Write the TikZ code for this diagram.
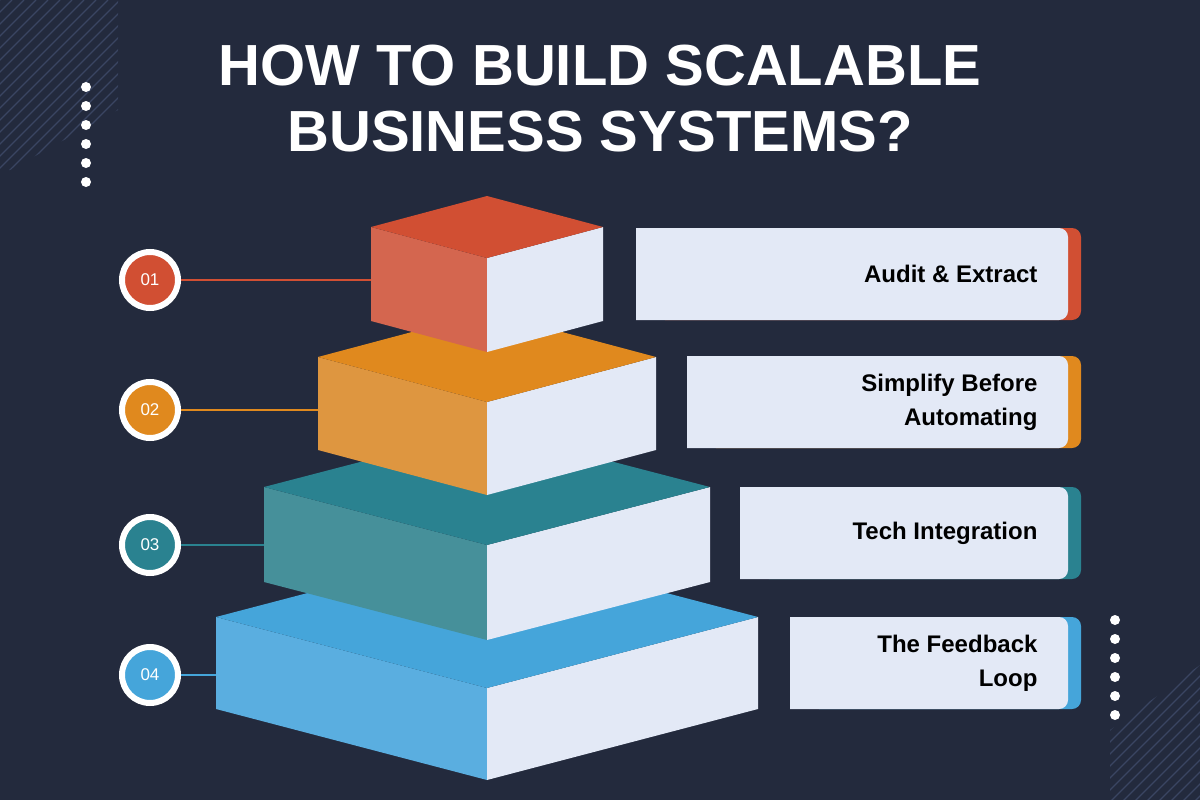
\documentclass[tikz,border=0pt]{standalone}
\usepackage{fontspec}
\setmainfont{Liberation Sans}
\usetikzlibrary{positioning}
\definecolor{bg}{HTML}{232A3D}
\definecolor{hatch}{HTML}{3A4562}
\definecolor{face}{HTML}{E3E9F6}
\definecolor{redL}{HTML}{D4664F}\definecolor{redT}{HTML}{D14F33}
\definecolor{orgL}{HTML}{DE9640}\definecolor{orgT}{HTML}{E0891E}
\definecolor{tealL}{HTML}{46909A}\definecolor{tealT}{HTML}{2A8290}
\definecolor{bluL}{HTML}{5AAEE0}\definecolor{bluT}{HTML}{45A5DA}
% block: front x, front top y, half width, slope drop, height, left colour, top colour
\newcommand{\layer}[7]{%
  \fill[#6] (#1-#3,#2-#4) -- (#1,#2) -- (#1,#2+#5) -- (#1-#3,#2-#4+#5) -- cycle;
  \fill[face] (#1+#3,#2-#4) -- (#1,#2) -- (#1,#2+#5) -- (#1+#3,#2-#4+#5) -- cycle;
  \fill[#7] (#1-#3,#2-#4) -- (#1,#2) -- (#1+#3,#2-#4) -- (#1,#2-2*#4) -- cycle;
}
\begin{document}
\begin{tikzpicture}[x=1pt,y=-1pt,
    num node/.style={circle,draw=white,line width=6pt,minimum size=56pt,inner sep=0pt,
      text=white,font=\fontsize{17}{17}\selectfont},
    link/.style={line width=2.5pt},
    dot/.style={circle,fill=white,minimum size=10pt,inner sep=0pt}]
  \fill[bg] (0,0) rectangle (1200,800);
  \useasboundingbox (0,0) rectangle (1200,800);
  % hatching
  \begin{scope}
    \clip (0,0) -- (118,0) -- (118,110) -- (10,170) -- (0,170) -- cycle;
    \foreach \i in {-200,-188,...,300}
      \draw[hatch,line width=1.2pt] (\i,200) -- (\i+200,0);
  \end{scope}
  \begin{scope}
    \clip (1200,665) -- (1200,800) -- (1110,800) -- (1110,730) -- cycle;
    \foreach \i in {900,912,...,1400}
      \draw[hatch,line width=1.2pt] (\i,820) -- (\i+200,620);
  \end{scope}
  % dots
  \foreach \k in {0,...,5} {
    \node[dot] (dl\k) at (86,87+19*\k) {};
    \node[dot] (dr\k) at (1115,620+19*\k) {};
  }
  % title
  \node[text=white,font=\bfseries\fontsize{58}{66}\selectfont,align=center] (title) at (600,99)
    {HOW TO BUILD SCALABLE\\BUSINESS SYSTEMS?};
  % label boxes
  \foreach \y/\x/\c/\t in {228/636/redT/{Audit \& Extract},
      356/687/orgT/{Simplify Before\\Automating},
      487/740/tealT/{Tech Integration},
      617/790/bluT/{The Feedback\\Loop}} {
    \fill[\c,rounded corners=9pt] (\x+20,\y) rectangle (1081,\y+92);
    \fill[face] (\x,\y) -- (1058,\y) [rounded corners=9pt] -- (1068,\y) -- (1068,\y+92) [sharp corners] -- (1058,\y+92) -- (\x,\y+92) -- cycle;
    \node[font=\bfseries\fontsize{24}{34}\selectfont,align=right,anchor=east] at (1041,\y+46) {\t};
  }
  % connectors and numbers
  \foreach \n/\y/\xe/\c in {01/280/371/redT,02/410/318/orgT,03/545/264/tealT,04/675/216/bluT} {
    \coordinate (end\n) at (\xe,\y);
    \node[num node,fill=\c] (n\n) at (150,\y) {\n};
    \draw[link,\c] (n\n) -- (end\n);
  }
  % pyramid
  \layer{487}{688}{271}{71}{92}{bluL}{bluT}
  \layer{487}{545}{223}{58}{95}{tealL}{tealT}
  \layer{487}{402}{169}{45}{93}{orgL}{orgT}
  \layer{487}{258}{116}{31}{94}{redL}{redT}
\end{tikzpicture}
\end{document}
